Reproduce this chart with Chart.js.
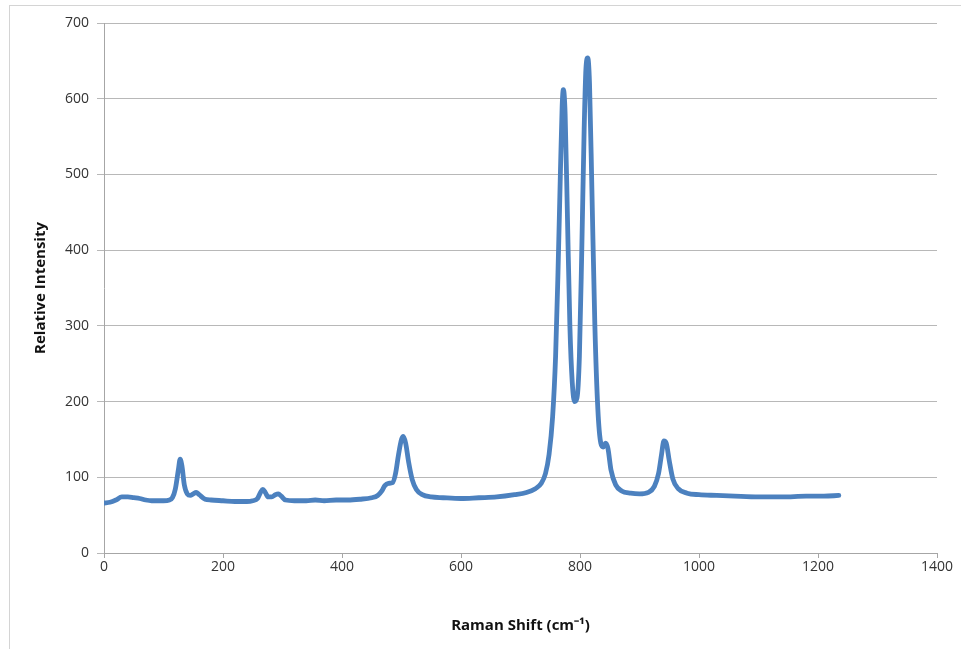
<!DOCTYPE html>
<html>
<head>
<meta charset="utf-8">
<script src="https://cdn.jsdelivr.net/npm/chart.js@4/dist/chart.umd.min.js"></script>
<style>
  html, body { margin: 0; padding: 0; background: #fff; }
  #wrap { position: relative; width: 961px; height: 649px; }
  #frame { position: absolute; left: 9px; top: 5px; right: 0; bottom: 0; border-top: 1px solid #d4d4d4; border-left: 1px solid #d4d4d4; }
  canvas { position: absolute; left: 0; top: 0; }
</style>
</head>
<body>
<div id="wrap">
  <div id="frame"></div>
  <canvas id="c" width="961" height="649"></canvas>
</div>
<script>
// Raman shift (cm-1) values
const ramanShift = [0,10,20,30,40,50,60,70,80,90,100,110,115,120,125,128,131,135,140,145,150,155,160,170,180,200,220,240,250,258,263,267,271,276,282,288,293,298,305,320,340,355,370,390,410,430,450,460,467,472,478,485,490,495,500,503,507,512,518,525,535,550,570,600,630,660,690,710,725,735,742,748,754,759,763,767,770,772,775,779,783,787,791,795,799,803,807,810,813,816,820,825,830,835,839,843,847,852,860,870,885,900,915,925,932,937,941,945,950,956,965,980,1000,1030,1060,1100,1140,1180,1210,1235];
// Relative intensity values
const intensity = [66,67,70,74,74,73,72,70,69,69,69,70,73,85,110,124,115,90,78,76,78,80,77,71,70,69,68,68,69,72,80,84,80,74,74,77,78,75,70,69,69,70,69,70,70,71,73,76,82,89,92,93,105,130,150,154,145,120,97,84,77,74,73,72,73,74,77,80,85,92,105,130,180,260,370,500,590,612,580,440,300,225,200,205,260,400,560,640,654,620,480,300,190,145,140,145,138,110,90,82,79,78,80,88,105,130,148,145,122,98,85,79,77,76,75,74,74,75,75,76];
const xTicks = [0,200,400,600,800,1000,1200,1400];
const yTicks = [0,100,200,300,400,500,600,700];

const points = ramanShift.map((x, i) => ({ x: x, y: intensity[i] }));

new Chart(document.getElementById('c'), {
  type: 'line',
  data: {
    datasets: [{
      data: points,
      borderColor: 'rgb(76,129,191)',
      borderWidth: 4.8,
      pointRadius: 0,
      fill: false,
      cubicInterpolationMode: 'monotone',
      borderCapStyle: 'round',
      borderJoinStyle: 'round'
    }]
  },
  options: {
    responsive: false,
    animation: false,
    events: [],
    layout: { padding: { left: 10, right: 24, top: 23, bottom: 10 } },
    plugins: { legend: { display: false }, tooltip: { enabled: false } },
    scales: {
      x: {
        type: 'linear',
        min: 0, max: 1400,
        afterBuildTicks: (s) => { s.ticks = xTicks.map(v => ({ value: v })); },
        afterFit: (s) => { s.height = 649 - 553 - 10; },
        grid: { drawOnChartArea: false, drawTicks: true, tickLength: 5, color: '#a6a6a6' },
        border: { color: '#a6a6a6', width: 1 },
        ticks: { color: '#333', font: { family: 'Open Sans', size: 14 }, padding: 1, maxRotation: 0, callback: (v) => String(v) },
        title: { display: true, text: 'Raman Shift (cm⁻¹)', color: '#111', font: { family: 'Open Sans', size: 15, weight: 'bold' }, padding: { top: 22 } }
      },
      y: {
        type: 'linear',
        min: 0, max: 700,
        afterBuildTicks: (s) => { s.ticks = yTicks.map(v => ({ value: v })); },
        afterFit: (s) => { s.width = 104 - 10; },
        grid: { color: '#b8b8b8', lineWidth: 1, tickLength: 7, drawTicks: true },
        border: { color: '#a6a6a6', width: 1 },
        ticks: { color: '#333', font: { family: 'Open Sans', size: 14 }, padding: 8, callback: (v) => String(v) },
        title: { display: true, text: 'Relative Intensity', color: '#111', font: { family: 'Open Sans', size: 15, weight: 'bold' }, padding: { top: 22, bottom: 20 } }
      }
    }
  }
});
</script>
</body>
</html>
